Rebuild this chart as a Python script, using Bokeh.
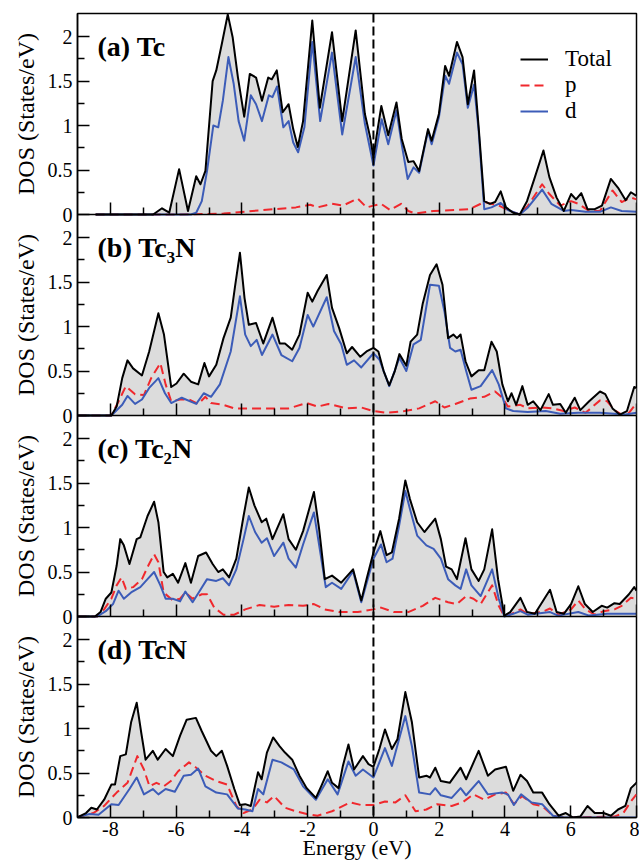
import math
from bokeh.plotting import figure
from bokeh.models import (FixedTicker, CustomJSTickFormatter, Span, Label,
                          Legend, LegendItem, Range1d, LinearAxis)
from bokeh.layouts import row
from bokeh.embed import file_html
from bokeh.resources import INLINE

# ---------------- data (Energy in eV, DOS in States/eV) ----------------
x_major_ticks = [-8, -6, -4, -2, 0, 2, 4, 6, 8]
x_minor_ticks = [-7, -5, -3, -1, 1, 3, 5, 7]
y_major_ticks = [0, 0.5, 1, 1.5, 2]
y_minor_ticks = [0.25, 0.75, 1.25, 1.75]

panel_labels = ["(a) Tc", "(b) Tc\u2083N", "(c) Tc\u2082N", "(d) TcN"]
legend_labels = ["Total", "p", "d"]
x_title = "Energy (eV)"
y_title = "DOS (States/eV)"

tc_total = [(-8.45, 0), (-6.7, 0), (-6.43, 0.07), (-6.21, 0.02), (-5.91, 0.51), (-5.64, 0.04),
            (-5.39, 0.43), (-5.26, 0.34), (-5.11, 0.49), (-4.89, 1.50), (-4.78, 1.62), (-4.61, 1.92),
            (-4.43, 2.25), (-4.28, 1.99), (-4.12, 1.54), (-3.93, 1.10), (-3.76, 1.58), (-3.57, 1.54),
            (-3.39, 1.28), (-3.20, 1.54), (-3.09, 1.52), (-2.94, 1.62), (-2.76, 1.15), (-2.58, 1.24),
            (-2.44, 0.96), (-2.30, 0.76), (-2.14, 1.05), (-1.86, 2.18), (-1.63, 1.20), (-1.26, 2.05),
            (-0.95, 1.05), (-0.54, 2.07), (-0.26, 1.13), (-0.10, 0.87), (0.0, 0.64), (0.09, 0.87),
            (0.24, 1.22), (0.45, 0.89), (0.70, 1.26), (0.86, 0.85), (1.06, 0.59), (1.22, 0.60),
            (1.39, 0.49), (1.66, 0.96), (1.77, 0.83), (1.99, 1.13), (2.18, 1.67), (2.30, 1.56),
            (2.54, 1.94), (2.71, 1.77), (2.87, 1.24), (3.06, 1.62), (3.20, 0.98), (3.37, 0.15),
            (3.54, 0.12), (3.70, 0.14), (3.87, 0.26), (4.03, 0.08), (4.25, 0.02), (4.45, 0),
            (4.67, 0.15), (4.91, 0.42), (5.17, 0.72), (5.35, 0.42), (5.57, 0.19), (5.79, 0.04),
            (6.01, 0.23), (6.16, 0.17), (6.32, 0.24), (6.51, 0.06), (6.73, 0.06), (6.95, 0.10),
            (7.22, 0.40), (7.44, 0.30), (7.67, 0.16), (7.83, 0.25), (8.0, 0.21)]
tc_d = [(-8.45, 0), (-5.55, 0), (-5.39, 0.02), (-5.22, 0.15), (-5.06, 0.49), (-4.87, 1.00),
        (-4.72, 0.98), (-4.58, 1.28), (-4.41, 1.77), (-4.25, 1.47), (-4.10, 1.05), (-3.93, 0.83),
        (-3.73, 1.34), (-3.57, 1.24), (-3.39, 1.05), (-3.18, 1.34), (-3.07, 1.32), (-2.93, 1.44),
        (-2.74, 0.98), (-2.58, 1.05), (-2.44, 0.81), (-2.29, 0.70), (-2.10, 0.98), (-1.86, 1.94),
        (-1.62, 1.05), (-1.26, 1.82), (-0.95, 0.90), (-0.54, 1.77), (-0.26, 1.02), (0, 0.55),
        (0.25, 1.07), (0.45, 0.79), (0.70, 1.17), (0.86, 0.79), (1.04, 0.40), (1.22, 0.53),
        (1.39, 0.47), (1.66, 0.94), (1.77, 0.79), (1.99, 1.09), (2.18, 1.56), (2.30, 1.47),
        (2.54, 1.82), (2.71, 1.69), (2.87, 1.20), (3.06, 1.46), (3.20, 0.94), (3.37, 0.06),
        (3.59, 0.08), (3.87, 0.13), (4.09, 0.05), (4.45, 0), (4.70, 0.08), (5.13, 0.28),
        (5.41, 0.12), (5.79, 0.04), (6.01, 0.05), (6.45, 0.03), (6.89, 0.03), (7.22, 0.08),
        (7.55, 0.04), (8.0, 0.03)]
tc_p = [(-8.45, 0), (-5.88, 0), (-4.56, 0.01), (-3.68, 0.04), (-3.02, 0.06), (-2.36, 0.08),
        (-1.92, 0.11), (-1.70, 0.08), (-1.26, 0.12), (-0.93, 0.10), (-0.48, 0.18), (-0.21, 0.08),
        (0, 0.10), (0.23, 0.12), (0.51, 0.05), (0.84, 0.12), (1.06, 0.04), (1.28, 0.01),
        (1.83, 0.04), (2.49, 0.05), (2.93, 0.06), (3.37, 0.14), (3.81, 0.10), (4.14, 0.04),
        (4.45, 0), (4.70, 0.10), (5.13, 0.34), (5.35, 0.23), (5.68, 0.10), (6.01, 0.15),
        (6.23, 0.12), (6.56, 0.04), (6.89, 0.04), (7.27, 0.27), (7.55, 0.14), (7.83, 0.19),
        (8.0, 0.17)]

tc3n_total = [(-9, 0), (-7.97, 0), (-7.81, 0.10), (-7.64, 0.42), (-7.48, 0.62), (-7.31, 0.53),
              (-7.04, 0.45), (-6.82, 0.72), (-6.54, 1.15), (-6.37, 0.91), (-6.15, 0.32), (-5.99, 0.36),
              (-5.77, 0.47), (-5.55, 0.38), (-5.33, 0.35), (-5.14, 0.59), (-5.00, 0.44), (-4.78, 0.57),
              (-4.56, 0.87), (-4.34, 1.10), (-4.21, 1.45), (-4.06, 1.83), (-3.92, 1.32), (-3.79, 1.02),
              (-3.57, 1.04), (-3.35, 0.81), (-3.07, 1.10), (-2.85, 0.81), (-2.69, 0.81), (-2.47, 0.74),
              (-2.25, 0.91), (-2.00, 1.38), (-1.86, 1.28), (-1.70, 1.40), (-1.42, 1.58), (-1.26, 1.21),
              (-1.04, 0.98), (-0.81, 0.70), (-0.65, 0.77), (-0.40, 0.66), (-0.21, 0.72), (0, 0.76),
              (0.15, 0.72), (0.31, 0.50), (0.48, 0.34), (0.65, 0.50), (0.79, 0.69), (1.00, 0.56),
              (1.13, 0.83), (1.33, 0.91), (1.50, 1.26), (1.72, 1.58), (1.92, 1.70), (2.10, 1.47),
              (2.27, 0.87), (2.43, 0.91), (2.54, 0.87), (2.65, 0.91), (2.80, 0.61), (2.98, 0.44),
              (3.20, 0.51), (3.37, 0.51), (3.59, 0.83), (3.75, 0.72), (3.92, 0.35), (4.09, 0.16),
              (4.20, 0.25), (4.34, 0.12), (4.53, 0.33), (4.69, 0.12), (4.86, 0.16), (5.08, 0.06),
              (5.33, 0.24), (5.46, 0.12), (5.68, 0.13), (5.85, 0.03), (6.12, 0.20), (6.29, 0.06),
              (6.56, 0.16), (6.89, 0.27), (7.05, 0.24), (7.27, 0.08), (7.49, 0.01), (7.71, 0.05),
              (7.93, 0.32), (8.0, 0.31)]
tc3n_d = [(-9, 0), (-7.97, 0), (-7.64, 0.12), (-7.48, 0.22), (-7.25, 0.13), (-7.04, 0.18),
          (-6.82, 0.31), (-6.54, 0.42), (-6.34, 0.25), (-6.15, 0.14), (-5.83, 0.20), (-5.39, 0.13),
          (-5.16, 0.25), (-4.94, 0.21), (-4.67, 0.35), (-4.34, 0.72), (-4.06, 1.34), (-3.90, 0.91),
          (-3.73, 0.78), (-3.55, 0.85), (-3.39, 0.68), (-3.07, 0.91), (-2.80, 0.68), (-2.47, 0.61),
          (-2.25, 0.76), (-2.00, 1.13), (-1.83, 1.00), (-1.42, 1.33), (-1.20, 0.95), (-0.98, 0.80),
          (-0.81, 0.57), (-0.59, 0.62), (-0.37, 0.54), (0, 0.70), (0.18, 0.63), (0.48, 0.33),
          (0.79, 0.65), (1.00, 0.50), (1.22, 0.80), (1.44, 0.85), (1.72, 1.47), (1.99, 1.46),
          (2.16, 1.17), (2.33, 0.76), (2.49, 0.72), (2.65, 0.74), (2.82, 0.50), (2.98, 0.29),
          (3.26, 0.33), (3.61, 0.51), (3.81, 0.35), (4.03, 0.08), (4.25, 0.05), (4.69, 0.04),
          (5.24, 0.05), (5.68, 0.02), (6.23, 0.03), (6.89, 0.03), (7.33, 0.02), (7.66, 0.01),
          (8.0, 0.03)]
tc3n_p = [(-9, 0), (-7.97, 0), (-7.75, 0.16), (-7.53, 0.33), (-7.25, 0.24), (-6.98, 0.23),
          (-6.76, 0.42), (-6.48, 0.59), (-6.32, 0.35), (-6.15, 0.16), (-5.88, 0.18), (-5.61, 0.18),
          (-5.33, 0.13), (-5.11, 0.21), (-4.94, 0.14), (-4.56, 0.12), (-4.23, 0.08), (-3.68, 0.08),
          (-3.13, 0.08), (-2.58, 0.08), (-2.03, 0.14), (-1.70, 0.10), (-1.37, 0.13), (-0.81, 0.08),
          (-0.37, 0.09), (0, 0.05), (0.40, 0.03), (0.95, 0.05), (1.39, 0.08), (1.88, 0.16),
          (2.16, 0.09), (2.49, 0.13), (2.93, 0.19), (3.37, 0.21), (3.70, 0.27), (3.92, 0.20),
          (4.09, 0.10), (4.47, 0.12), (4.69, 0.08), (5.13, 0.09), (5.46, 0.08), (5.79, 0.05),
          (6.12, 0.09), (6.45, 0.03), (6.89, 0.17), (7.11, 0.16), (7.33, 0.06), (7.55, 0.01),
          (7.77, 0.03), (8.0, 0.14)]

tc2n_total = [(-9, 0), (-8.47, 0), (-8.30, 0.05), (-8.14, 0.20), (-7.97, 0.27), (-7.81, 0.57),
              (-7.70, 0.87), (-7.59, 0.80), (-7.42, 0.59), (-7.20, 0.87), (-7.09, 0.89), (-6.87, 1.13),
              (-6.67, 1.29), (-6.54, 1.06), (-6.38, 0.50), (-6.27, 0.44), (-6.10, 0.48), (-5.94, 0.38),
              (-5.72, 0.60), (-5.55, 0.38), (-5.33, 0.68), (-5.09, 0.72), (-4.89, 0.59), (-4.72, 0.50),
              (-4.58, 0.53), (-4.39, 0.44), (-4.17, 0.65), (-3.95, 1.13), (-3.79, 1.45), (-3.62, 1.25),
              (-3.40, 1.06), (-3.26, 1.10), (-3.07, 0.87), (-2.74, 1.15), (-2.58, 0.87), (-2.36, 0.75),
              (-2.14, 0.96), (-1.81, 1.40), (-1.65, 0.98), (-1.48, 0.42), (-1.26, 0.46), (-0.98, 0.38),
              (-0.62, 0.53), (-0.37, 0.18), (-0.21, 0.42), (0, 0.72), (0.21, 0.96), (0.40, 0.69),
              (0.56, 0.72), (0.78, 1.10), (0.97, 1.53), (1.11, 1.32), (1.33, 1.06), (1.55, 0.95),
              (1.88, 1.10), (2.05, 0.87), (2.21, 0.56), (2.38, 0.53), (2.54, 0.42), (2.80, 0.88),
              (2.98, 0.53), (3.20, 0.40), (3.37, 0.53), (3.61, 0.98), (3.79, 0.42), (3.98, 0.01),
              (4.16, 0.05), (4.47, 0.21), (4.67, 0.05), (4.91, 0.03), (5.37, 0.30), (5.57, 0.05),
              (5.79, 0.03), (6.01, 0.14), (6.23, 0.34), (6.43, 0.14), (6.67, 0.05), (6.94, 0.12),
              (7.11, 0.10), (7.33, 0.15), (7.49, 0.14), (7.77, 0.25), (7.93, 0.33), (8.0, 0.29)]
tc2n_d = [(-9, 0), (-8.4, 0), (-8.14, 0.06), (-7.92, 0.14), (-7.75, 0.29), (-7.59, 0.20),
          (-7.37, 0.27), (-7.09, 0.33), (-6.87, 0.42), (-6.67, 0.50), (-6.48, 0.35), (-6.32, 0.20),
          (-6.10, 0.20), (-5.88, 0.17), (-5.72, 0.28), (-5.50, 0.16), (-5.28, 0.29), (-5.06, 0.42),
          (-4.78, 0.40), (-4.58, 0.43), (-4.39, 0.35), (-4.17, 0.53), (-3.95, 0.87), (-3.79, 1.13),
          (-3.60, 0.95), (-3.40, 0.83), (-3.24, 0.88), (-3.02, 0.68), (-2.74, 0.83), (-2.58, 0.65),
          (-2.36, 0.55), (-2.14, 0.81), (-1.81, 1.17), (-1.65, 0.80), (-1.45, 0.33), (-1.26, 0.38),
          (-0.98, 0.31), (-0.62, 0.51), (-0.37, 0.16), (0, 0.65), (0.23, 0.81), (0.40, 0.61),
          (0.58, 0.65), (0.78, 1.02), (0.97, 1.41), (1.11, 1.21), (1.33, 0.91), (1.61, 0.80),
          (1.83, 0.76), (2.05, 0.65), (2.27, 0.42), (2.49, 0.35), (2.65, 0.31), (2.82, 0.53),
          (2.98, 0.35), (3.26, 0.23), (3.61, 0.53), (3.81, 0.20), (3.98, 0), (4.25, 0.03),
          (4.47, 0.06), (4.69, 0.02), (5.37, 0.05), (5.62, 0.01), (6.23, 0.05), (6.56, 0.01),
          (7.11, 0.03), (7.66, 0.03), (8.0, 0.03)]
tc2n_p = [(-9, 0), (-8.4, 0), (-8.19, 0.08), (-7.97, 0.20), (-7.81, 0.35), (-7.66, 0.44),
          (-7.53, 0.31), (-7.31, 0.33), (-7.04, 0.42), (-6.85, 0.57), (-6.67, 0.70), (-6.54, 0.61),
          (-6.38, 0.27), (-6.10, 0.18), (-5.88, 0.20), (-5.72, 0.27), (-5.50, 0.20), (-5.22, 0.25),
          (-5.06, 0.25), (-4.84, 0.10), (-4.56, 0.02), (-4.23, 0.02), (-3.90, 0.08), (-3.46, 0.13),
          (-3.02, 0.11), (-2.58, 0.13), (-2.14, 0.12), (-1.81, 0.14), (-1.48, 0.08), (-1.04, 0.05),
          (-0.48, 0.05), (0, 0.08), (0.23, 0.10), (0.62, 0.05), (1.06, 0.05), (1.50, 0.12),
          (1.88, 0.21), (2.27, 0.16), (2.54, 0.14), (2.82, 0.23), (3.04, 0.20), (3.26, 0.14),
          (3.61, 0.35), (3.81, 0.12), (3.98, 0), (4.20, 0.03), (4.47, 0.08), (4.69, 0.03),
          (5.13, 0.05), (5.37, 0.09), (5.62, 0.02), (6.01, 0.08), (6.23, 0.18), (6.45, 0.08),
          (6.73, 0.02), (7.00, 0.06), (7.33, 0.08), (7.55, 0.12), (7.83, 0.21), (8.0, 0.20)]

tcn_total = [(-9, 0), (-8.96, 0.01), (-8.74, 0.05), (-8.58, 0.11), (-8.41, 0.09), (-8.19, 0.20),
             (-7.97, 0.37), (-7.86, 0.37), (-7.70, 0.69), (-7.53, 0.71), (-7.37, 1.07), (-7.20, 1.29),
             (-7.06, 0.95), (-6.93, 0.65), (-6.71, 0.75), (-6.56, 0.65), (-6.32, 0.77), (-6.10, 0.69),
             (-5.88, 0.92), (-5.68, 1.10), (-5.40, 1.12), (-5.22, 0.97), (-4.94, 0.75), (-4.78, 0.69),
             (-4.61, 0.75), (-4.45, 0.58), (-4.23, 0.32), (-4.06, 0.14), (-3.90, 0.15), (-3.73, 0.13),
             (-3.51, 0.51), (-3.40, 0.43), (-3.24, 0.73), (-3.05, 0.90), (-2.85, 0.80), (-2.69, 0.73),
             (-2.47, 0.65), (-2.25, 0.47), (-2.03, 0.33), (-1.75, 0.22), (-1.59, 0.35), (-1.39, 0.52),
             (-1.26, 0.39), (-1.06, 0.33), (-0.93, 0.58), (-0.76, 0.82), (-0.59, 0.54), (-0.32, 0.69),
             (-0.15, 0.60), (0, 0.57), (0.18, 0.77), (0.35, 0.99), (0.56, 0.77), (0.73, 0.88),
             (0.97, 1.41), (1.17, 1.07), (1.39, 0.45), (1.61, 0.47), (1.72, 0.45), (1.88, 0.56),
             (2.05, 0.41), (2.32, 0.39), (2.65, 0.56), (2.82, 0.43), (3.20, 0.75), (3.48, 0.47),
             (3.70, 0.54), (4.03, 0.57), (4.25, 0.30), (4.47, 0.48), (4.67, 0.41), (4.86, 0.28),
             (5.13, 0.28), (5.35, 0.15), (5.63, 0.02), (5.85, 0.05), (6.07, 0), (6.29, 0.01),
             (6.51, 0.13), (6.73, 0.05), (7.00, 0.05), (7.22, 0.02), (7.44, 0.09), (7.66, 0.13),
             (7.83, 0.33), (8.0, 0.39)]
tcn_d = [(-9, 0), (-8.96, 0.01), (-8.63, 0.04), (-8.36, 0.03), (-7.97, 0.15), (-7.75, 0.14),
         (-7.42, 0.32), (-7.20, 0.45), (-6.98, 0.26), (-6.71, 0.32), (-6.54, 0.26), (-6.32, 0.32),
         (-6.04, 0.29), (-5.77, 0.47), (-5.55, 0.48), (-5.33, 0.55), (-5.11, 0.35), (-4.78, 0.28),
         (-4.45, 0.26), (-4.12, 0.10), (-3.90, 0.09), (-3.68, 0.07), (-3.51, 0.32), (-3.35, 0.26),
         (-3.07, 0.65), (-2.80, 0.62), (-2.42, 0.54), (-2.14, 0.35), (-1.75, 0.20), (-1.39, 0.43),
         (-1.09, 0.26), (-0.76, 0.63), (-0.54, 0.47), (-0.32, 0.54), (0, 0.45), (0.35, 0.78),
         (0.56, 0.58), (0.97, 1.14), (1.17, 0.80), (1.39, 0.28), (1.72, 0.26), (1.88, 0.33),
         (2.05, 0.25), (2.38, 0.22), (2.65, 0.33), (2.82, 0.25), (3.20, 0.41), (3.48, 0.26),
         (3.92, 0.28), (4.09, 0.26), (4.27, 0.14), (4.49, 0.26), (4.80, 0.17), (5.13, 0.15),
         (5.46, 0.02), (5.79, 0), (8.0, 0)]
tcn_p = [(-9, 0), (-8.96, 0.01), (-8.52, 0.05), (-8.19, 0.13), (-7.81, 0.28), (-7.48, 0.39),
         (-7.18, 0.69), (-6.98, 0.54), (-6.81, 0.35), (-6.60, 0.39), (-6.38, 0.35), (-6.16, 0.41),
         (-5.94, 0.52), (-5.61, 0.62), (-5.39, 0.56), (-5.11, 0.47), (-4.78, 0.41), (-4.45, 0.37),
         (-4.17, 0.13), (-3.95, 0.05), (-3.68, 0.09), (-3.46, 0.20), (-3.24, 0.17), (-3.02, 0.24),
         (-2.69, 0.11), (-2.36, 0.07), (-2.03, 0.04), (-1.70, 0.02), (-1.26, 0.07), (-0.70, 0.17),
         (-0.37, 0.14), (0, 0.14), (0.35, 0.18), (0.67, 0.17), (0.97, 0.25), (1.28, 0.07),
         (1.61, 0.09), (1.94, 0.15), (2.38, 0.13), (2.71, 0.17), (3.04, 0.26), (3.37, 0.20),
         (3.70, 0.26), (4.03, 0.28), (4.27, 0.15), (4.52, 0.24), (4.86, 0.15), (5.13, 0.13),
         (5.46, 0.02), (5.79, 0), (7.33, 0.01), (7.60, 0.05), (7.83, 0.18), (8.0, 0.26)]

panels = [(tc_total, tc_p, tc_d), (tc3n_total, tc3n_p, tc3n_d),
          (tc2n_total, tc2n_p, tc2n_d), (tcn_total, tcn_p, tcn_d)]

# ---------------- styling ----------------
LABEL_FONT = "Liberation Serif"   # for Label annotations
AXIS_FONT = "serif"               # for axes / legend
FILL = "#dcdcdc"
BLACK = "#000000"
RED = "#f0282d"
BLUE = "#3c5cb8"
YMAX = 2.26
NP = len(panels)
offsets = [(NP - 1 - k) * YMAX for k in range(NP)]   # panel (a) on top
H = 866
TOP = 13
BOTTOM = 49
TITLE_W = 42


def unzip(pts):
    return [q[0] for q in pts], [q[1] for q in pts]


# narrow strip holding the rotated y titles, one for each panel
tfig = figure(width=TITLE_W, height=H, x_range=(0, 1), y_range=(0, NP * YMAX),
              output_backend="svg", toolbar_location=None,
              x_axis_type=None, y_axis_type=None,
              min_border_left=0, min_border_right=0, min_border_top=TOP,
              min_border_bottom=BOTTOM)
tfig.outline_line_color = None
tfig.xgrid.visible = False
tfig.ygrid.visible = False
tfig.background_fill_color = "white"
tfig.border_fill_color = "white"
for k, o in enumerate(offsets):
    tfig.add_layout(Label(x=25, y=o + YMAX / 2, x_units="screen", text=y_title,
                          angle=math.pi / 2, text_align="center", text_baseline="middle",
                          text_font=LABEL_FONT, text_font_size="24px", text_color=BLACK))

fig = figure(width=641 - TITLE_W - 2, height=H, x_range=(-9, 8), y_range=(0, NP * YMAX),
             output_backend="svg", toolbar_location=None,
             min_border_left=77 - TITLE_W, min_border_right=3,
             min_border_top=TOP, min_border_bottom=BOTTOM)
fig.xgrid.visible = False
fig.ygrid.visible = False
fig.outline_line_color = BLACK
fig.outline_line_width = 1.5
fig.background_fill_color = "white"
fig.border_fill_color = "white"
fig.extra_y_ranges = {f"panel{k}": Range1d(start=-o, end=NP * YMAX - o)
                      for k, o in enumerate(offsets)}


def style_axis(ax):
    ax.axis_line_color = BLACK
    ax.axis_line_width = 1.5
    ax.major_tick_line_color = BLACK
    ax.minor_tick_line_color = BLACK
    ax.major_tick_line_width = 1.5
    ax.minor_tick_line_width = 1.5
    ax.major_tick_out = 0
    ax.minor_tick_out = 0
    ax.major_tick_in = 12
    ax.minor_tick_in = 7
    ax.major_label_text_color = BLACK
    ax.major_label_text_font = AXIS_FONT
    ax.axis_label_text_font = AXIS_FONT
    ax.axis_label_text_font_style = "normal"
    ax.axis_label_text_color = BLACK


legend_renderers = None
for k, (total, p_pts, d_pts) in enumerate(panels):
    name = f"panel{k}"
    tx, ty = unzip(total)
    px, py = unzip(p_pts)
    dx, dy = unzip(d_pts)
    fig.varea(x=tx, y1=[0] * len(tx), y2=ty, fill_color=FILL, y_range_name=name)
    r_p = fig.line(px, py, line_color=RED, line_width=2, line_dash="9 5",
                   line_join="round", y_range_name=name)
    r_d = fig.line(dx, dy, line_color=BLUE, line_width=2, line_join="round",
                   y_range_name=name)
    r_t = fig.line(tx, ty, line_color=BLACK, line_width=2, line_join="round",
                   y_range_name=name)
    if k == 0:
        legend_renderers = (r_t, r_p, r_d)

    fig.add_layout(Label(x=20, y=1.89, x_units="screen", y_range_name=name,
                         text=panel_labels[k], text_font=LABEL_FONT,
                         text_font_style="bold", text_font_size="28px",
                         text_color=BLACK, text_baseline="alphabetic"))

    if k < NP - 1:
        inner = LinearAxis(fixed_location=offsets[k])
        style_axis(inner)
        inner.ticker = FixedTicker(ticks=x_major_ticks, minor_ticks=x_minor_ticks)
        inner.formatter = CustomJSTickFormatter(code="return '';")
        inner.major_label_text_font_size = "1px"
        inner.major_label_standoff = 0
        fig.add_layout(inner, "below")

fig.add_layout(Span(location=0, dimension="height", line_color=BLACK,
                    line_width=2, line_dash="9 4"))

# left y axis: 0 .. 2 repeated for each stacked panel
ya = fig.yaxis[0]
style_axis(ya)
ya.ticker = FixedTicker(ticks=[o + t for o in offsets for t in y_major_ticks],
                        minor_ticks=[o + t for o in offsets for t in y_minor_ticks])
ya.formatter = CustomJSTickFormatter(args=dict(ymax=YMAX), code="""
    const k = Math.floor((tick + 1e-6) / ymax);
    const v = Math.round((tick - k * ymax) * 100) / 100;
    return v.toString();
""")
ya.major_label_text_font_size = "20px"
ya.major_label_standoff = 5
ya.axis_label = None

# bottom x axis
xa = fig.xaxis[0]
style_axis(xa)
xa.ticker = FixedTicker(ticks=x_major_ticks, minor_ticks=x_minor_ticks)
xa.formatter = CustomJSTickFormatter(code="return tick.toString();")
xa.major_label_text_font_size = "20px"
xa.major_label_standoff = 4
xa.axis_label = x_title
xa.axis_label_text_font_size = "22px"
xa.axis_label_standoff = -4

legend = Legend(items=[LegendItem(label=legend_labels[i], renderers=[legend_renderers[i]])
                       for i in range(3)],
                location=(443, 693), orientation="vertical",
                border_line_color=None, background_fill_alpha=0.0,
                label_text_font=AXIS_FONT, label_text_font_size="23px",
                label_text_color=BLACK,
                glyph_width=28, glyph_height=22, label_height=22,
                spacing=-2, padding=0, margin=0, label_standoff=17)
fig.add_layout(legend)

layout = row(tfig, fig, spacing=0)

with open("out.html", "w") as f:
    f.write(file_html(layout, INLINE))
